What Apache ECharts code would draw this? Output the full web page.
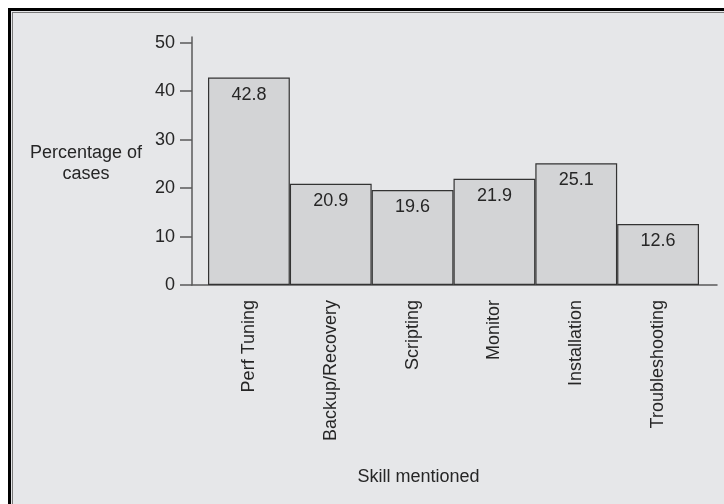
<!DOCTYPE html>
<html>
<head>
<meta charset="utf-8">
<title>Skill mentioned</title>
<script src="https://cdn.jsdelivr.net/npm/echarts@6/dist/echarts.min.js"></script>
<style>
  html, body { margin: 0; padding: 0; background: #fff; overflow: hidden; }
  #frame {
    position: absolute; left: 8px; top: 8px; width: 740px; height: 520px;
    background: #e6e7e9;
    border-left: 3px solid #000; border-top: 3px solid #000;
    box-shadow: inset 1px 1px 0 #e6e7e9, inset 2px 2px 0 #7a7a7a;
  }
  #chart { position: absolute; left: 0; top: 0; width: 724px; height: 504px; }
</style>
</head>
<body>
<div id="frame"></div>
<div id="chart"></div>
<script>
// data
const skills = ['Perf Tuning', 'Backup/Recovery', 'Scripting', 'Monitor', 'Installation', 'Troubleshooting'];
const percentOfCases = [42.8, 20.9, 19.6, 21.9, 25.1, 12.6];
const yTicks = { min: 0, max: 50, interval: 10 };

const FONT = '"Liberation Sans", Arial, sans-serif';
const TEXT = '#262626';
const AXIS = '#5a5a5a';

const chart = echarts.init(document.getElementById('chart'), null, { renderer: 'canvas' });

chart.setOption({
  backgroundColor: 'transparent',
  animation: false,
  textStyle: { fontFamily: FONT, color: TEXT },
  grid: [
    // frame grid: just the two axis lines, a bit longer than the bar area
    { left: 192, right: 7, top: 37, bottom: 219 },
    // bar grid
    { left: 208, width: 491, top: 42.7, bottom: 219 }
  ],
  xAxis: [
    {
      gridIndex: 0, type: 'value', min: 0, max: 1,
      axisLine: { show: true, lineStyle: { color: AXIS, width: 1.5 } },
      axisTick: { show: false }, axisLabel: { show: false }, splitLine: { show: false }
    },
    {
      gridIndex: 1, type: 'category', data: skills,
      axisLine: { show: false }, axisTick: { show: false },
      axisLabel: { rotate: 90, margin: 15, fontSize: 18, color: TEXT, fontFamily: FONT },
      name: 'Skill mentioned', nameLocation: 'middle', nameGap: 192,
      nameTextStyle: { fontSize: 18, color: TEXT, fontFamily: FONT, verticalAlign: 'middle', padding: [0, 70, 0, 0] }
    }
  ],
  yAxis: [
    {
      gridIndex: 0, type: 'value', min: 0, max: 1,
      axisLine: { show: true, lineStyle: { color: AXIS, width: 1.5 } },
      axisTick: { show: false }, axisLabel: { show: false }, splitLine: { show: false }
    },
    {
      gridIndex: 1, type: 'value', min: yTicks.min, max: yTicks.max, interval: yTicks.interval,
      offset: 16,
      axisLine: { show: false },
      axisTick: { show: true, length: 12, lineStyle: { color: AXIS, width: 1.5 } },
      axisLabel: { margin: 17, fontSize: 18, color: TEXT, fontFamily: FONT },
      splitLine: { show: false },
      name: 'Percentage of\ncases', nameLocation: 'middle', nameRotate: 0, nameGap: 106,
      nameTextStyle: { fontSize: 18, lineHeight: 21, color: TEXT, fontFamily: FONT, align: 'center', verticalAlign: 'middle' }
    }
  ],
  series: [{
    type: 'bar',
    xAxisIndex: 1, yAxisIndex: 1,
    data: percentOfCases,
    barCategoryGap: '0%',
    itemStyle: { color: '#d3d4d6', borderColor: '#333', borderWidth: 1.2 },
    label: {
      show: true, position: 'insideTop', distance: 8,
      fontSize: 18, color: TEXT, fontFamily: FONT,
      formatter: p => p.value.toFixed(1)
    }
  }]
});
</script>
</body>
</html>
